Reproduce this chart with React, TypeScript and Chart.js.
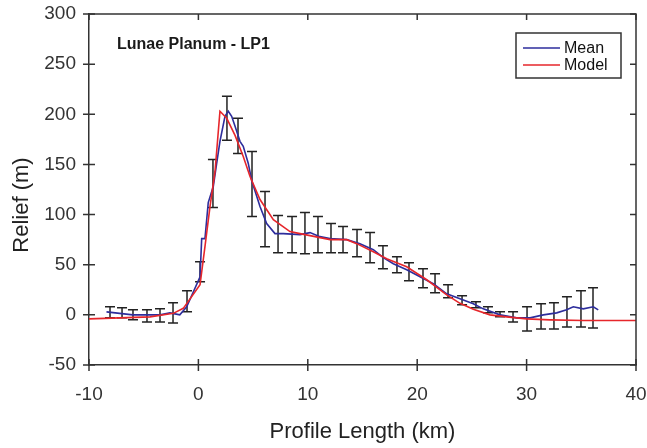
import React, { useEffect, useRef } from 'react';
import { Chart, registerables } from 'chart.js';

Chart.register(...registerables);

// ---- data (km, m) ----
const meanX = [-8.4, -6.0, -3.5, -2.6, -1.7, -1.07, 0.15, 0.3, 0.6, 0.9, 1.36, 1.67, 1.97, 2.43, 2.73, 3.04, 3.35, 3.8, 4.1, 4.56, 4.87, 5.63, 6.24, 7.0, 7.76, 9.29, 10.2, 11.11, 12.03, 13.56, 14.77, 15.99, 16.9, 17.82, 19.04, 20.26, 21.47, 22.7, 23.91, 25.13, 26.04, 27.57, 29.09, 30.31, 31.53, 32.75, 33.66, 34.27, 35.18, 36.1, 36.55];
const meanY = [3, 0, 0, 2, 0, 8, 38, 76, 76, 112, 128, 151, 173, 198, 203, 198, 188, 173, 168, 151, 134, 108, 91, 81, 81, 80, 82, 78, 76, 75, 71, 65, 57, 51, 45, 38, 31, 21, 16, 11, 6, 0, -3, -3, 0, 2, 5, 8, 6, 8, 5];

const modelX = [-10, -4.42, -2.29, -1.38, 0.15, 0.6, 1.06, 1.52, 1.97, 2.59, 3.35, 4.1, 4.72, 5.63, 6.85, 8.37, 9.29, 12.03, 13.56, 14.47, 15.99, 17.21, 19.04, 20.87, 22.7, 23.91, 25.13, 26.65, 28.18, 30.0, 32.14, 35.18, 40];
const modelY = [-4, -2, 1.5, 6.5, 30, 68, 108, 143, 203, 196, 179, 158, 138, 115, 95, 83, 81, 75, 75, 71, 63, 56, 48, 35, 20, 11.5, 5.5, 0, -2, -4, -5, -5.7, -5.7];

const errX = [-8.08, -6.98, -5.98, -4.70, -3.51, -2.32, -1.04, 0.15, 1.33, 2.61, 3.62, 4.90, 6.09, 7.28, 8.56, 9.74, 10.93, 12.12, 13.22, 14.50, 15.69, 16.87, 18.15, 19.25, 20.53, 21.63, 22.82, 24.10, 25.37, 26.47, 27.57, 28.76, 30.04, 31.32, 32.50, 33.69, 34.97, 36.07];
const errHigh = [8, 7, 5, 5, 6, 12, 24, 53, 155, 218, 196, 163, 123, 99, 98, 102, 98, 91, 88, 85, 82, 69, 58, 52, 46, 41, 30, 19, 13, 8, 3, 3, 8, 11, 12, 18, 24, 27];
const errLow = [-3, -3, -5, -7, -7, -8, 3, 33, 107, 174, 161, 98, 68, 62, 62, 61, 62, 62, 62, 58, 52, 46, 42, 34, 27, 22, 17, 10, 7, 2, -2, -7, -16, -14, -14, -12, -12, -13];

const seriesLabels = ['Mean', 'Model'];
const chartTitle = 'Lunae Planum - LP1';
const xTitle = 'Profile Length (km)';
const yTitle = 'Relief (m)';
const xRange = [-10, 40, 10];
const yRange = [-50, 300, 50];

const FONT = '"Liberation Sans", Arial, Helvetica, sans-serif';
const AXIS = '#333333';

function zeroPad(s: any) {
  s.paddingLeft = 0;
  s.paddingRight = 0;
  s.paddingTop = 0;
  s.paddingBottom = 0;
}

export default function App() {
  const ref = useRef<HTMLCanvasElement>(null);

  useEffect(() => {
    const canvas = ref.current;
    if (!canvas) return;

    const errorBars = {
      id: 'errorBars',
      beforeDatasetsDraw(chart: any) {
        const { ctx, scales } = chart;
        const xs = scales.x, ys = scales.y;
        ctx.save();
        ctx.strokeStyle = '#222222';
        ctx.lineWidth = 1.5;
        const cap = 5;
        for (let i = 0; i < errX.length; i++) {
          const px = xs.getPixelForValue(errX[i]);
          const top = ys.getPixelForValue(errHigh[i]);
          const bot = ys.getPixelForValue(errLow[i]);
          ctx.beginPath();
          ctx.moveTo(px, top); ctx.lineTo(px, bot);
          ctx.moveTo(px - cap, top); ctx.lineTo(px + cap, top);
          ctx.moveTo(px - cap, bot); ctx.lineTo(px + cap, bot);
          ctx.stroke();
        }
        ctx.restore();
      },
    };

    const frame = {
      id: 'frame',
      afterDraw(chart: any) {
        const { ctx, chartArea: a, scales } = chart;
        ctx.save();
        ctx.strokeStyle = AXIS;
        ctx.lineWidth = 1.5;
        ctx.beginPath();
        ctx.moveTo(a.left, a.top); ctx.lineTo(a.right, a.top);
        ctx.lineTo(a.right, a.bottom);
        ctx.stroke();
        const t = 6;
        ctx.beginPath();
        scales.x.ticks.forEach((tk: any) => {
          const px = scales.x.getPixelForValue(tk.value);
          ctx.moveTo(px, a.bottom - t); ctx.lineTo(px, a.bottom + t);
          ctx.moveTo(px, a.top); ctx.lineTo(px, a.top + t);
        });
        scales.y.ticks.forEach((tk: any) => {
          const py = scales.y.getPixelForValue(tk.value);
          ctx.moveTo(a.left - t, py); ctx.lineTo(a.left + t, py);
          ctx.moveTo(a.right - t, py); ctx.lineTo(a.right, py);
        });
        ctx.stroke();

        // y axis title
        ctx.save();
        ctx.translate(22, 205);
        ctx.rotate(-Math.PI / 2);
        ctx.fillStyle = '#222222';
        ctx.font = `22px ${FONT}`;
        ctx.textAlign = 'center';
        ctx.textBaseline = 'middle';
        ctx.fillText(yTitle, 0, 0);
        ctx.restore();

        // title inside plot
        ctx.fillStyle = '#1a1a1a';
        ctx.font = `bold 16px ${FONT}`;
        ctx.textBaseline = 'middle';
        ctx.textAlign = 'left';
        ctx.fillText(chartTitle, a.left + 28, a.top + 31);

        // legend box
        const bw = 105, bh = 45;
        const bx = a.right - 15 - bw, by = a.top + 19;
        ctx.fillStyle = '#ffffff';
        ctx.fillRect(bx, by, bw, bh);
        ctx.strokeStyle = AXIS;
        ctx.lineWidth = 1.5;
        ctx.strokeRect(bx, by, bw, bh);
        chart.data.datasets.forEach((ds: any, i: number) => {
          const ly = by + 15 + i * 17;
          ctx.strokeStyle = ds.borderColor;
          ctx.lineWidth = 1.6;
          ctx.beginPath();
          ctx.moveTo(bx + 7, ly); ctx.lineTo(bx + 44, ly);
          ctx.stroke();
          ctx.fillStyle = '#111111';
          ctx.font = `16px ${FONT}`;
          ctx.fillText(ds.label, bx + 48, ly + 1);
        });
        ctx.restore();
      },
    };

    const chart = new Chart(canvas, {
      type: 'line',
      data: {
        datasets: [
          {
            label: seriesLabels[0],
            data: meanX.map((x, i) => ({ x, y: meanY[i] })),
            borderColor: '#2d2d9c',
            borderWidth: 1.6,
            pointRadius: 0,
            tension: 0,
            order: 1,
          },
          {
            label: seriesLabels[1],
            data: modelX.map((x, i) => ({ x, y: modelY[i] })),
            borderColor: '#e6262b',
            borderWidth: 1.6,
            pointRadius: 0,
            tension: 0,
            order: 0,
          },
        ],
      },
      options: {
        animation: false,
        responsive: false,
        maintainAspectRatio: false,
        layout: { padding: { top: 14, right: 11, left: 0, bottom: 0 } },
        plugins: { legend: { display: false }, tooltip: { enabled: false } },
        scales: {
          x: {
            type: 'linear',
            min: xRange[0],
            max: xRange[1],
            ticks: { stepSize: xRange[2], font: { family: FONT, size: 19 }, color: AXIS, padding: 18, maxRotation: 0 },
            grid: { display: false, drawTicks: false },
            border: { display: true, color: AXIS, width: 1.5 },
            title: { display: true, text: xTitle, font: { family: FONT, size: 22 }, color: '#222222', padding: { top: 0, bottom: 3 } },
            afterFit: (s: any) => { s.height = 83; zeroPad(s); },
          },
          y: {
            type: 'linear',
            min: yRange[0],
            max: yRange[1],
            ticks: { stepSize: yRange[2], font: { family: FONT, size: 19 }, color: AXIS, padding: 13 },
            grid: { display: false, drawTicks: false },
            border: { display: true, color: AXIS, width: 1.5 },
            title: { display: false, text: yTitle },
            afterFit: (s: any) => { s.width = 89; zeroPad(s); },
          },
        },
      } as any,
      plugins: [errorBars, frame],
    });
    return () => chart.destroy();
  }, []);

  return (
    <div style={{ position: 'absolute', left: 0, top: 0, width: 647, height: 448, background: '#ffffff' }}>
      <canvas ref={ref} width={647} height={448} style={{ width: 647, height: 448, display: 'block' }} />
    </div>
  );
}
